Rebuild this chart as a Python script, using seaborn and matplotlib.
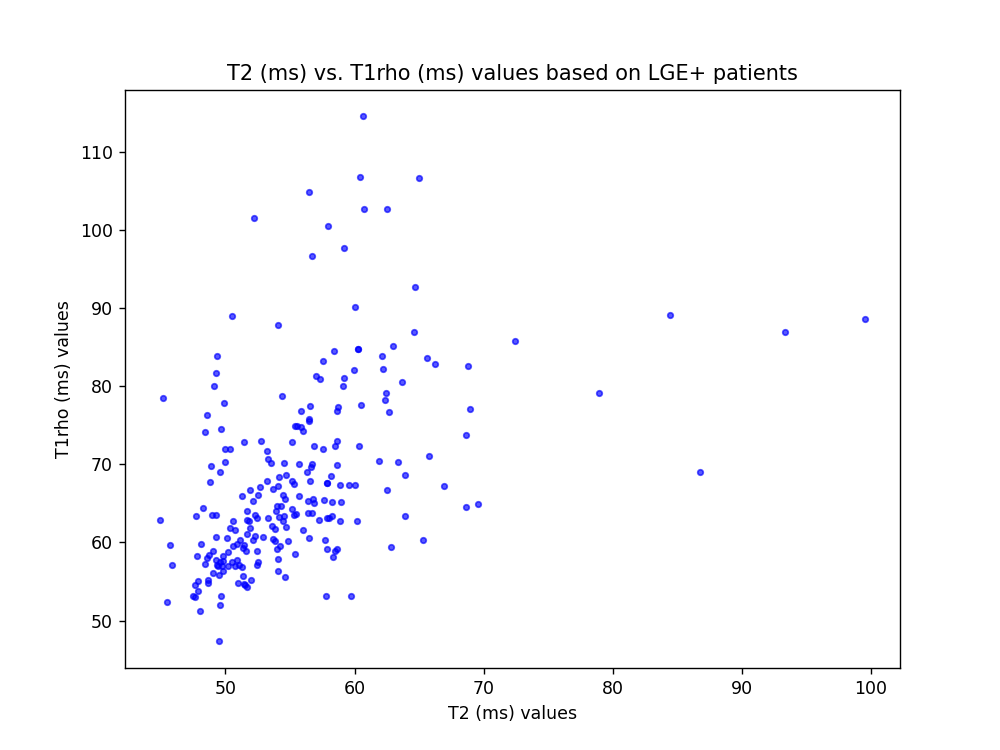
import matplotlib
matplotlib.use("Agg")
import matplotlib.pyplot as plt
import seaborn as sns
import pandas as pd

t2_values = [
    51.46, 52.75, 55.15, 49.96, 50.35, 53.19, 53.27, 53.52, 54.50, 55.71,
    56.28, 48.88, 49.98, 49.57, 48.80, 54.68, 54.16, 55.12, 55.33, 53.19,
    54.09, 53.65, 52.67, 51.90, 51.25, 52.54, 52.11, 54.43, 54.61, 55.71,
    56.41, 48.24, 47.72, 48.93, 49.26, 44.95, 51.64, 52.28, 52.41, 50.56,
    51.64, 51.82, 53.31, 54.01, 54.27, 53.91, 55.12, 55.43, 55.30, 54.16,
    54.53, 54.47, 53.58, 53.83, 54.66, 56.02, 56.41, 56.49, 50.35, 50.74,
    51.90, 49.26, 50.09, 51.64, 52.28, 52.11, 52.93, 53.65, 53.83, 54.22,
    54.01, 54.86, 51.12, 50.87, 50.60, 51.46, 51.33, 51.59, 45.73, 48.10,
    50.17, 49.78, 49.06, 48.75, 48.54, 48.41, 47.77, 49.26, 49.57, 49.83,
    49.44, 49.71, 49.32, 50.17, 52.46, 50.48, 50.87, 50.74, 51.07, 51.25,
    52.54, 52.46, 54.09, 55.38, 45.86, 54.09, 54.61, 49.01, 49.50, 49.83,
    51.38, 51.97, 50.94, 51.43, 51.69, 51.53, 48.62, 48.67, 47.89, 47.64,
    47.85, 47.51, 47.64, 49.65, 49.57, 45.47, 48.05, 49.52,
    58.61, 58.48, 56.87, 57.57, 60.36, 65.73, 61.90, 63.33, 56.72, 56.62,
    58.68, 63.92, 58.17, 56.54, 57.83, 57.85, 58.86, 59.58, 60.02, 66.94,
    62.48, 56.80, 56.87, 57.65, 58.24, 58.99, 69.60, 68.61, 56.67, 57.21,
    57.88, 58.03, 58.24, 58.86, 60.18, 63.89, 57.70, 65.31, 62.86, 57.83,
    58.61, 58.48, 58.30, 57.78, 59.71,
    50.50, 54.04, 49.34, 58.42, 57.57, 49.26, 49.13, 57.00, 57.34, 45.19,
    54.37, 49.91, 56.54, 55.84, 58.73, 58.65, 48.54, 56.49, 56.49, 55.38,
    55.51, 55.84, 56.02, 49.65, 48.44,
    64.69, 60.02, 64.57, 72.43, 60.23, 60.28, 62.99, 62.09, 65.65, 66.24,
    68.82, 59.97, 62.17, 59.20, 59.12, 63.64, 62.42, 62.35, 62.68, 60.49,
    68.95, 68.67,
    60.62, 60.43, 65.00, 56.44, 60.74, 62.55, 52.23, 57.91, 59.20, 56.70,
    84.43, 93.33, 99.52, 78.93, 86.73,
]

t1rho_values = [
    72.81, 72.94, 72.86, 71.97, 71.97, 71.75, 70.69, 70.17, 70.17, 70.05,
    69.02, 69.74, 70.25, 68.97, 67.69, 68.68, 68.33, 67.91, 67.49, 67.82,
    67.18, 66.85, 67.05, 66.76, 65.99, 66.12, 65.35, 66.03, 65.61, 65.90,
    65.35, 64.42, 63.43, 63.56, 63.52, 62.92, 63.98, 63.56, 63.14, 62.79,
    62.92, 62.79, 63.14, 64.62, 64.62, 63.98, 64.33, 63.65, 63.47, 63.22,
    63.43, 62.79, 62.15, 61.73, 61.94, 61.64, 63.78, 60.58, 61.86, 61.64,
    61.86, 60.66, 60.58, 61.09, 60.87, 60.36, 60.66, 60.45, 60.14, 59.59,
    59.17, 60.14, 60.36, 59.81, 59.51, 59.72, 59.30, 58.96, 59.68, 59.81,
    58.74, 58.32, 58.87, 58.44, 58.02, 57.25, 58.32, 57.80, 57.46, 57.68,
    57.04, 56.95, 57.16, 57.04, 58.87, 57.46, 57.80, 57.04, 57.16, 56.87,
    57.46, 57.07, 57.89, 58.53, 57.13, 56.31, 55.54, 56.10, 55.88, 56.31,
    55.67, 55.25, 54.82, 54.73, 54.26, 54.52, 55.25, 54.82, 55.12, 54.61,
    53.84, 53.11, 53.03, 53.11, 52.05, 52.34, 51.19, 47.35,
    72.94, 72.30, 72.30, 71.97, 72.30, 71.02, 70.47, 70.25, 70.05, 69.61,
    69.96, 68.68, 68.55, 67.82, 67.65, 67.55, 67.40, 67.40, 67.40, 67.18,
    66.76, 65.57, 65.06, 65.48, 65.13, 65.13, 64.97, 64.49, 63.78, 62.92,
    63.09, 63.09, 63.34, 62.70, 62.79, 63.34, 60.36, 60.36, 59.38, 59.17,
    59.17, 58.87, 58.10, 53.20, 53.20,
    88.93, 87.87, 83.90, 84.45, 83.26, 81.69, 80.06, 81.25, 80.92, 78.49,
    78.70, 77.85, 77.50, 76.78, 77.29, 76.87, 76.35, 75.80, 75.59, 74.95,
    74.86, 74.73, 74.31, 74.52, 74.09,
    92.64, 90.08, 86.88, 85.73, 84.80, 84.80, 85.09, 83.90, 83.61, 82.84,
    82.62, 82.11, 82.20, 81.05, 79.97, 80.49, 79.13, 78.27, 76.65, 77.63,
    77.08, 73.80,
    114.52, 106.80, 106.58, 104.88, 102.67, 102.67, 101.52, 100.44, 97.68, 96.69,
    89.15, 86.88, 88.60, 79.13, 68.97,
]

title = "T2 (ms) vs. T1rho (ms) values based on LGE+ patients"
x_label = "T2 (ms) values"
y_label = "T1rho (ms) values"

df = pd.DataFrame({"T2": t2_values, "T1rho": t1rho_values})

fig, ax = plt.subplots(figsize=(8, 6), dpi=125)
sns.scatterplot(data=df, x="T2", y="T1rho", ax=ax, color="blue",
                alpha=0.65, s=10, edgecolor="blue", linewidth=1)
ax.set_title(title, fontsize=12)
ax.set_xlabel(x_label)
ax.set_ylabel(y_label)
fig.savefig("out.png", dpi=125)
